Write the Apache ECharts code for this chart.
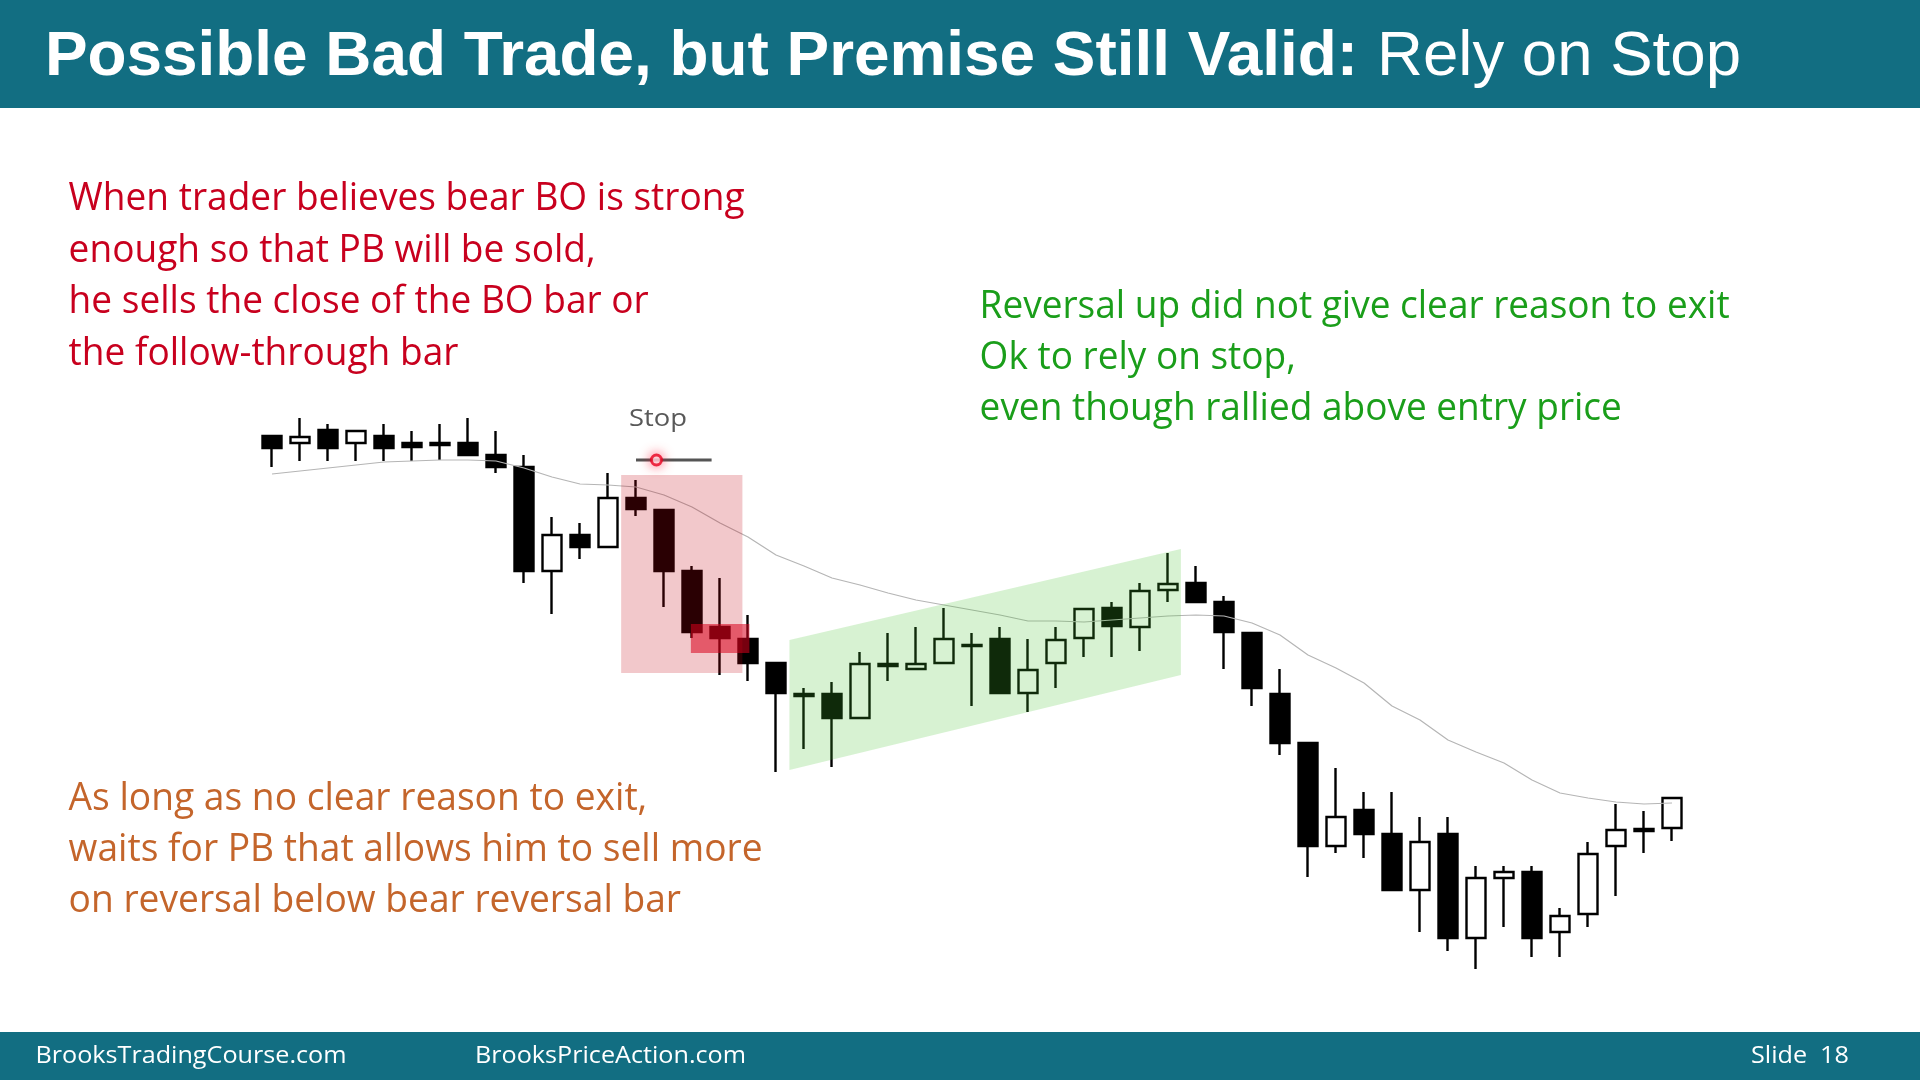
<!DOCTYPE html>
<html><head><meta charset="utf-8">
<script src="https://cdn.jsdelivr.net/npm/echarts@6/dist/echarts.min.js"></script>
<style>html,body{margin:0;padding:0;background:#fff;}#c{width:1920px;height:1080px;}</style>
</head><body><div id="c"></div>
<script>
// ---- data ----
const categories = [1,2,3,4,5,6,7,8,9,10,11,12,13,14,15,16,17,18,19,20,21,22,23,24,25,26,27,28,29,30,31,32,33,34,35,36,37,38,39,40,41,42,43,44,45,46,47,48,49,50,51];
const opens  = [56.4,55.7,57.0,55.7,56.4,55.7,55.7,55.7,54.5,53.3, 42.9,46.5,45.3,50.2,49.0,42.9,37.3,36.1,33.7,30.6, 30.6,28.2,33.6,33.1,33.7,35.5,36.1,30.7,33.7,36.2, 39.2,37.3,41.0,41.7,39.8,36.7,30.6,25.7,15.4,19.0, 16.6,11.0,16.6,6.2,12.2,12.8,6.8,8.6,15.4,16.9, 17.2];
const closes = [55.2,56.3,55.2,56.9,55.2,55.3,55.5,54.5,53.3,42.9, 46.5,45.3,50.2,49.1,42.9,36.8,36.2,33.7,30.7,30.4, 28.2,33.6,33.4,33.6,36.1,35.4,30.7,33.0,36.0,39.1, 37.4,40.9,41.6,39.8,36.8,31.2,25.7,15.4,18.3,16.6, 11.0,15.8,6.2,12.2,12.8,6.2,8.4,14.6,17.0,17.1, 20.2];
const lows   = [53.3,53.9,53.9,53.9,53.9,53.9,54.0,54.5,52.7,41.7, 38.6,44.1,45.3,48.4,39.3,36.2,32.5,31.9,22.8,25.1, 23.3,28.2,31.9,33.1,33.7,29.4,30.7,28.8,31.2,34.3, 34.3,34.9,39.8,39.8,33.1,29.4,24.5,12.3,14.7,14.2, 11.0,6.8,4.9,3.1,7.3,4.3,4.3,7.3,10.4,14.7, 15.9];
const highs  = [56.4,58.2,57.6,56.9,57.6,56.9,57.6,58.2,56.9,54.5, 48.3,47.7,52.7,52.0,49.0,43.4,42.2,38.5,33.7,31.2, 31.8,34.8,36.7,37.3,39.2,36.7,37.3,36.1,37.3,39.1, 39.8,41.7,44.7,43.4,40.4,36.7,33.1,25.7,23.2,20.8, 20.8,18.3,18.3,13.4,13.4,13.4,9.2,15.8,19.6,18.9, 20.2];
const movingAvg = [52.6,52.9,53.2,53.5,53.8,53.9,54.0,54.0,53.9,53.2, 52.3,51.6,51.5,51.3,50.5,49.3,47.7,46.3,44.5,43.4, 42.2,41.5,40.7,40.0,39.5,39.0,38.5,37.9,37.9,37.8, 38.0,38.2,38.4,38.5,38.4,37.7,36.5,34.5,33.2,31.7, 29.4,28.0,26.0,24.8,23.7,22.0,20.7,20.2,19.8,19.6, 19.7];

// annotation shapes in data units: [bar index, price]
const entryZone   = [[12.47,52.5],[16.8,52.5],[16.8,32.7],[12.47,32.7]];
const entryBars   = [[14.96,37.6],[17.05,37.6],[17.05,34.7],[14.96,34.7]];
const bullChannel = [[18.48,36.0],[32.46,45.1],[32.46,32.5],[18.48,23.0]];
const stopLine    = [[13.0,54.0],[15.7,54.0]];
const stopPoint   = [[13.73,54.0]];

// texts
const titleBold = 'Possible Bad Trade, but Premise Still Valid:';
const titleRegular = 'Rely on Stop';
const redLines = ['When trader believes bear BO is strong','enough so that PB will be sold,','he sells the close of the BO bar or','the follow-through bar'];
const greenLines = ['Reversal up did not give clear reason to exit','Ok to rely on stop,','even though rallied above entry price'];
const orangeLines = ['As long as no clear reason to exit,','waits for PB that allows him to sell more','on reversal below bear reversal bar'];
const footerLeft = 'BrooksTradingCourse.com';
const footerMid = 'BrooksPriceAction.com';
const footerRight = 'Slide  18';
const stopLabel = 'Stop';

// ---- layout helpers ----
const mctx = document.createElement('canvas').getContext('2d');
function fitScale(text, size, family, weight, target) {
  mctx.font = weight + ' ' + size + 'px ' + family;
  return target / mctx.measureText(text).width;
}
const BODY = "'Open Sans'";
const TITLE = "'Liberation Sans', Arial";
const graphics = [];
graphics.push({type:'rect', left:0, top:0, shape:{width:1920, height:108}, style:{fill:'#126e82'}, z:0});
graphics.push({type:'rect', left:0, top:1032, shape:{width:1920, height:48}, style:{fill:'#126e82'}, z:0});
function textEl(t, x, y, size, family, weight, color, sx) {
  return {type:'text', x:x, y:y, scaleX:sx, z:10,
    style:{text:t, fontSize:size, fontFamily:family, fontWeight:weight, fill:color, textAlign:'left', textVerticalAlign:'middle'}};
}
const ts = 63.5;
graphics.push(textEl(titleBold, 45, 57, ts, TITLE, 'bold', '#ffffff', fitScale(titleBold, ts, TITLE, 'bold', 1313)));
graphics.push(textEl(titleRegular, 1377, 57, ts, TITLE, 'normal', '#ffffff', fitScale(titleRegular, ts, TITLE, 'normal', 364)));

const bs = 37.5;
const rs = fitScale(redLines[0], bs, BODY, 'normal', 676);
const redY = [199.5, 251, 302.5, 354];
redLines.forEach((t,i)=>graphics.push(textEl(t, 68.6, redY[i], bs, BODY, 'normal', '#c8001e', rs)));
const gs = fitScale(greenLines[0], bs, BODY, 'normal', 750);
const greenY = [307.5, 358.8, 409];
greenLines.forEach((t,i)=>graphics.push(textEl(t, 979.6, greenY[i], bs, BODY, 'normal', '#1a9e1a', gs)));
const os = fitScale(orangeLines[1], bs, BODY, 'normal', 694);
const orangeY = [799.5, 850, 901.3];
orangeLines.forEach((t,i)=>graphics.push(textEl(t, 68.6, orangeY[i], bs, BODY, 'normal', '#c4652b', os)));

const fs = 23;
const fsc = fitScale(footerLeft, fs, BODY, 'normal', 311);
graphics.push(textEl(footerLeft, 35.5, 1056, fs, BODY, 'normal', '#ffffff', fsc));
graphics.push(textEl(footerMid, 475, 1056, fs, BODY, 'normal', '#ffffff', fsc));
graphics.push(textEl(footerRight, 1751, 1056, fs, BODY, 'normal', '#ffffff', fsc));
graphics.push(textEl(stopLabel, 629, 419, 23, BODY, 'normal', '#595959', fitScale(stopLabel, 23, BODY, 'normal', 58)));

function polySeries(pts, fill, z) {
  return {type:'custom', xAxisIndex:1, yAxisIndex:0, z:z, silent:true, clip:false,
    data:[pts[0]],
    renderItem:(params, api)=>({type:'polygon', shape:{points:pts.map(p=>api.coord(p))}, style:{fill:fill}})};
}

const chart = echarts.init(document.getElementById('c'), null, {renderer:'canvas'});
chart.setOption({
  backgroundColor:'#ffffff',
  animation:false,
  grid:{left:258, width:1428, top:400, height:600},
  xAxis:[
    {type:'category', data:categories, show:false, boundaryGap:true},
    {type:'value', min:-0.5, max:50.5, show:false}
  ],
  yAxis:{type:'value', min:0, max:60, show:false},
  series:[
    {type:'candlestick', xAxisIndex:0, barWidth:19, z:2,
      data:categories.map((c,i)=>[opens[i], closes[i], lows[i], highs[i]]),
      itemStyle:{color:'#ffffff', color0:'#000000', borderColor:'#000000', borderColor0:'#000000', borderWidth:2.4}},
    {type:'line', xAxisIndex:0, data:movingAvg, symbol:'none', z:3, silent:true,
      lineStyle:{color:'#b5b5b5', width:1.2}},
    polySeries(entryZone, 'rgba(194,0,14,0.216)', 4),
    polySeries(entryBars, 'rgba(217,0,28,0.55)', 5),
    polySeries(bullChannel, 'rgba(70,195,46,0.216)', 4),
    {type:'line', xAxisIndex:1, data:stopLine, symbol:'none', z:6, silent:true,
      lineStyle:{color:'#555555', width:3}},
    {type:'scatter', xAxisIndex:1, data:stopPoint, symbolSize:10, z:7, silent:true,
      itemStyle:{color:'#ffffff', borderColor:'#e8001e', borderWidth:3, shadowBlur:12, shadowColor:'rgba(255,0,40,0.7)'}}
  ],
  graphic:graphics
});
</script>
</body></html>
